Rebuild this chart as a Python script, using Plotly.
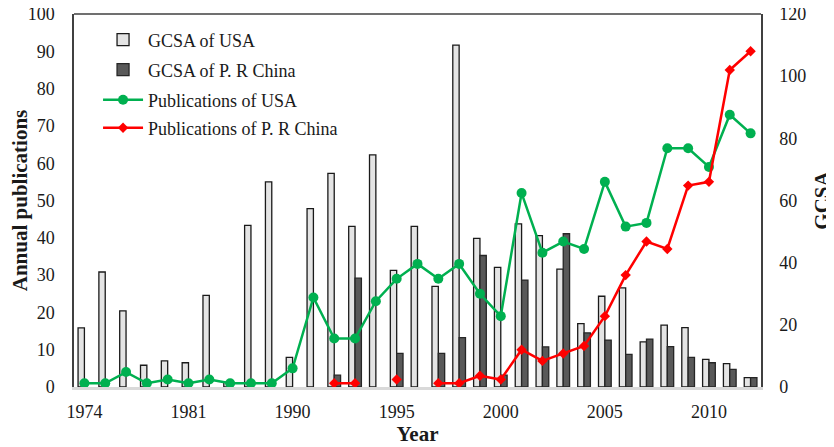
import plotly.graph_objects as go

years = ["1974", "1976", "1977", "1978", "1979", "1981", "1983", "1985", "1987", "1989",
         "1990", "1991", "1992", "1993", "1994", "1995", "1996", "1997", "1998", "1999",
         "2000", "2001", "2002", "2003", "2004", "2005", "2006", "2007", "2008", "2009",
         "2010", "2011", "2012"]
tick_labels = ["1974", "1981", "1990", "1995", "2000", "2005", "2010"]

gcsa_usa = [19, 37, 24.5, 7, 8.4, 7.8, 29.5, 1.5, 52, 66,
            9.5, 57.4, 68.7, 51.7, 74.7, 37.5, 51.7, 32.4, 110, 47.8,
            38.5, 52.5, 48.7, 37.9, 20.4, 29.2, 31.9, 14.5, 19.9, 19.1,
            8.9, 7.5, 3]
gcsa_china = [None, None, None, None, None, None, None, None, None, None,
              None, None, 3.8, 35, None, 10.8, None, 10.8, 15.9, 42.3,
              3.8, 34.4, 12.9, 49.3, 17.4, 15.1, 10.5, 15.4, 13, 9.5,
              7.8, 5.7, 3]
pub_usa = [1, 1, 4, 1, 2, 1, 2, 1, 1, 1,
           5, 24, 13, 13, 23, 29, 33, 29, 33, 25,
           19, 52, 36, 39, 37, 55, 43, 44, 64, 64,
           59, 73, 68]
pub_china = [None, None, None, None, None, None, None, None, None, None,
             None, None, 1, 1, None, 2, None, 1, 1, 3,
             2, 10, 7, 9, 11, 19, 30, 39, 37, 54,
             55, 85, 90]

FONT = "Liberation Serif, Times New Roman, serif"
FRAME = "#404040"

fig = go.Figure()
fig.add_trace(go.Bar(x=years, y=gcsa_usa, name="GCSA of USA", yaxis="y", legend="legend",
                     marker=dict(color="#e4e4e4", line=dict(color="#1a1a1a", width=1.3))))
fig.add_trace(go.Bar(x=years, y=gcsa_china, name="GCSA of P. R China", yaxis="y", legend="legend2",
                     marker=dict(color="#595959", line=dict(color="#262626", width=1.3))))
fig.add_trace(go.Scatter(x=years, y=pub_usa, name="Publications of USA", yaxis="y2", legend="legend3",
                         mode="lines+markers", line=dict(color="#00b050", width=2.5),
                         marker=dict(symbol="circle", size=10, color="#00b050")))
fig.add_trace(go.Scatter(x=years, y=pub_china, name="Publications of P. R China", yaxis="y2",
                         legend="legend4", mode="lines+markers", connectgaps=False,
                         line=dict(color="#ff0000", width=2.5),
                         marker=dict(symbol="diamond", size=8, color="#ff0000")))


def leg(yc):
    return dict(x=0.035, y=(387 - yc) / 373, xanchor="left", yanchor="middle",
                bgcolor="rgba(0,0,0,0)", font=dict(family=FONT, size=18), itemwidth=40)


fig.update_layout(
    width=826, height=439,
    margin=dict(l=66, r=73, t=6, b=60, autoexpand=False),
    paper_bgcolor="white", plot_bgcolor="white",
    font=dict(family=FONT, size=18, color="#1a1a1a"),
    barmode="group", bargap=0.39, bargroupgap=0,
    showlegend=True,
    legend=leg(40), legend2=leg(70), legend3=leg(100), legend4=leg(128),
    xaxis=dict(type="category", categoryorder="array", categoryarray=years,
               range=[-0.5, len(years) - 0.5],
               tickmode="array", tickvals=tick_labels, ticktext=tick_labels,
               showline=True, linecolor="#d9d9d9", linewidth=3,
               showgrid=False, zeroline=False, ticks="", ticklabelstandoff=6,
               automargin=False,
               tickfont=dict(family=FONT, size=18),
               title=dict(text="<b>Year</b>", font=dict(family=FONT, size=21), standoff=1)),
    yaxis=dict(side="right", range=[0, 120], dtick=20, showgrid=False, zeroline=False,
               showline=True, linecolor=FRAME, linewidth=1.5,
               ticks="", ticklabelstandoff=13, automargin=False, ticklabeloverflow="allow",
               tickfont=dict(family=FONT, size=18),
               title=dict(text="<b>GCSA</b>", font=dict(family=FONT, size=21), standoff=10)),
    yaxis2=dict(side="left", overlaying="y", range=[0, 100], dtick=10, showgrid=False,
                zeroline=False, showline=True, linecolor=FRAME, linewidth=1.5,
                ticks="", ticklabelstandoff=14, automargin=False, ticklabeloverflow="allow",
                tickfont=dict(family=FONT, size=18),
                title=dict(text="<b>Annual publications</b>", font=dict(family=FONT, size=21),
                           standoff=8)),
    shapes=[
        dict(type="line", xref="x domain", yref="y domain", x0=0, x1=1, y0=1, y1=1,
             layer="above", line=dict(color=FRAME, width=1.5)),
    ],
)

fig.write_html("out.html")
